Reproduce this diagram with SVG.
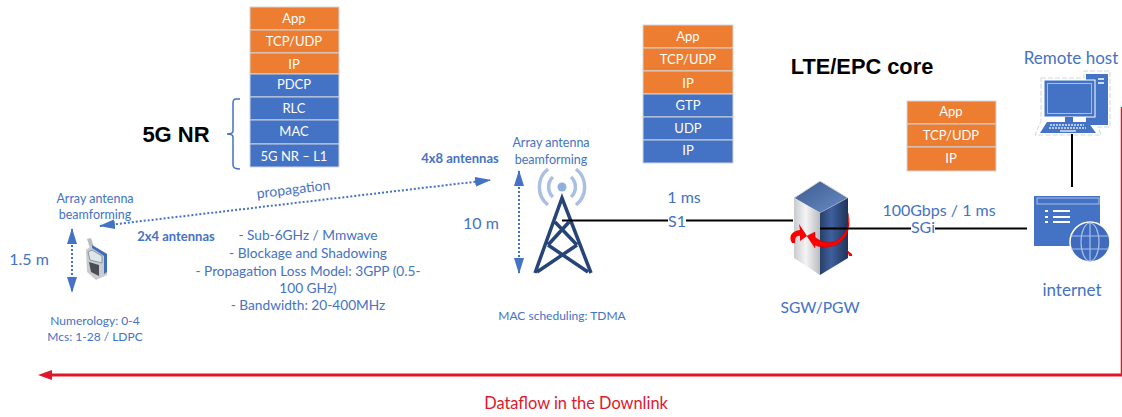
<svg xmlns="http://www.w3.org/2000/svg" width="1122" height="417" viewBox="0 0 1122 417">
<defs>
<style>
text{font-family:Lato,"Open Sans","Liberation Sans",sans-serif;text-anchor:middle}
.c{fill:#4472c4}
.s{font-size:13px;fill:#fff}
.o{fill:#ed7d31;stroke:#d0d5de;stroke-width:1}
.b{fill:#4472c4;stroke:#d0d5de;stroke-width:1}
.h{font-family:"Liberation Sans",Arial,sans-serif;font-weight:bold;fill:#000}
.d{stroke:#4472c4;stroke-width:2;stroke-dasharray:2 2;fill:none}
.k{stroke:#000;stroke-width:2;fill:none}
</style>
<linearGradient id="lf" x1="0" x2="1" y1="0" y2="0"><stop offset="0" stop-color="#c9cbce"/><stop offset="0.45" stop-color="#f4f4f5"/><stop offset="1" stop-color="#b9bbbf"/></linearGradient>
<linearGradient id="rf" x1="0" x2="1" y1="0" y2="0"><stop offset="0" stop-color="#2a3f66"/><stop offset="0.4" stop-color="#3e5f9f"/><stop offset="1" stop-color="#1f3357"/></linearGradient>
<linearGradient id="tf" x1="0" x2="1" y1="0" y2="1"><stop offset="0" stop-color="#3b5b8f"/><stop offset="1" stop-color="#6a8cc6"/></linearGradient>
<marker id="big" markerWidth="16" markerHeight="10" refX="15" refY="5" orient="auto-start-reverse" markerUnits="userSpaceOnUse"><path d="M0 0L16 5L0 10Z" fill="#4472c4"/></marker>
</defs>
<rect width="1122" height="417" fill="#fff"/>

<g id="stack-5g">
<rect class="o" x="250" y="7" width="89" height="23"/><text class="s" x="294" y="23">App</text>
<rect class="o" x="250" y="30" width="89" height="23"/><text class="s" x="294" y="46">TCP/UDP</text>
<rect class="o" x="250" y="53" width="89" height="21"/><text class="s" x="294" y="69">IP</text>
<rect class="b" x="250" y="74" width="89" height="23"/><text class="s" x="294" y="89">PDCP</text>
<rect class="b" x="250" y="97" width="89" height="23"/><text class="s" x="294" y="113">RLC</text>
<rect class="b" x="250" y="120" width="89" height="24"/><text class="s" x="294" y="136">MAC</text>
<rect class="b" x="250" y="144" width="89" height="23"/><text class="s" x="294" y="161">5G NR – L1</text>
<path d="M240 99H236Q233 99 233 103V131Q233 134 227 134Q233 134 233 137V165Q233 169 240 169" fill="none" stroke="#4472c4" stroke-width="1.500"/>
<text class="h" x="176" y="142" font-size="22">5G NR</text>
</g>

<g id="stack-enb">
<rect class="o" x="643" y="25" width="90" height="23"/><text class="s" x="688" y="41">App</text>
<rect class="o" x="643" y="48" width="90" height="23"/><text class="s" x="688" y="64">TCP/UDP</text>
<rect class="o" x="643" y="71" width="90" height="23"/><text class="s" x="688" y="88">IP</text>
<rect class="b" x="643" y="94" width="90" height="23"/><text class="s" x="688" y="110">GTP</text>
<rect class="b" x="643" y="117" width="90" height="23"/><text class="s" x="688" y="133">UDP</text>
<rect class="b" x="643" y="140" width="90" height="23"/><text class="s" x="688" y="155">IP</text>
</g>

<g id="stack-host">
<rect class="o" x="907" y="101" width="89" height="23"/><text class="s" x="951" y="116">App</text>
<rect class="o" x="907" y="124" width="89" height="23"/><text class="s" x="951" y="140">TCP/UDP</text>
<rect class="o" x="907" y="147" width="89" height="24"/><text class="s" x="951" y="163">IP</text>
</g>

<g id="ue">
<path d="M87 239L91 238L94 247L90 248Z" fill="#b9bcc1"/>
<path d="M86 250L92 245L107 254V275L96 280L87 272Z" fill="#c9cccf"/>
<path d="M92 245L107 254V272L104 274V256L92 248Z" fill="#3f6db8"/>
<path d="M88 252L92 250L102 256V263L90 260Z" fill="#dfe7ee" stroke="#666" stroke-width="0.600"/>
<path d="M89 262L99 265V276L91 272Z" fill="#4a4d52"/>
<text class="c" x="95" y="203" font-size="12.500">Array antenna</text>
<text class="c" x="95" y="219" font-size="12.500">beamforming</text>
<text class="c" x="29" y="265" font-size="16">1.5 m</text>
<text class="c" x="95" y="325" font-size="12">Numerology: 0-4</text>
<text class="c" x="95" y="341" font-size="12">Mcs: 1-28 / LDPC</text>
<text class="c" x="176" y="241" font-size="13" font-weight="bold">2x4 antennas</text>
</g>

<g id="propagation">
<text class="c" x="294" y="194" font-size="14" transform="rotate(-7 294 194)">propagation</text>
<text class="c" x="460" y="163" font-size="13" font-weight="bold">4x8 antennas</text>
<g font-size="13.700" fill="#4472c4">
<text x="308" y="240">- Sub-6GHz / Mmwave</text>
<text x="308" y="258">- Blockage and Shadowing</text>
<text x="308" y="276">- Propagation Loss Model: 3GPP (0.5-</text>
<text x="308" y="293">100 GHz)</text>
<text x="308" y="310">- Bandwidth: 20-400MHz</text>
</g>
</g>

<g id="enb">
<g fill="none" stroke="#a9bfe3" stroke-width="3.500">
<path d="M553 197A13.500 13.500 0 0 1 553 177"/><path d="M571 177A13.500 13.500 0 0 1 571 197"/>
<path d="M548 205A23 23 0 0 1 548 169"/><path d="M576 169A23 23 0 0 1 576 205"/>
</g>
<circle cx="562" cy="187" r="4.500" fill="#8fb0dd"/>
<path d="M535 273L562 198L591 273M555 222L577 245M569 222L548 245M548 245L588 272M577 245L537 272" fill="none" stroke="#264478" stroke-width="3.500"/>
<text class="c" x="551" y="147" font-size="12.500">Array antenna</text>
<text class="c" x="551" y="164" font-size="12.500">beamforming</text>
<text class="c" x="481" y="229" font-size="16">10 m</text>
<text class="c" x="562" y="320" font-size="12">MAC scheduling: TDMA</text>
<text class="c" x="684" y="203" font-size="16">1 ms</text>
<text class="c" x="677" y="227" font-size="16">S1</text>
</g>

<g id="sgw">
<path d="M820 181L848 198L820 213L794 198Z" fill="url(#tf)" stroke="#d5d7da"/>
<path d="M794 198L820 213V275L794 258Z" fill="url(#lf)"/>
<path d="M820 213L848 198V258L820 275Z" fill="url(#rf)"/>
<path d="M848 213C853 232 842 247 826 247C820 247 816 246 815 245V248L807 236L815 232V237C820 242 829 244 836 241C846 236 850 224 848 213Z" fill="#f00" stroke="#b00" stroke-width="0.400"/>
<path d="M792 243C788 236 792 231 800 230L799 224L807 236L800 241V236C796 235 795 238 795 243Z" fill="#f00"/>
<path d="M847 250L852 254V256L849 256Z" fill="#f00"/>
<text class="c" x="820" y="313" font-size="15.600">SGW/PGW</text>
<text class="c" x="939" y="216" font-size="16">100Gbps / 1 ms</text>
<text class="c" x="923" y="233" font-size="16">SGi</text>
</g>

<g id="lte-title"><text class="h" x="862" y="74" font-size="21.800">LTE/EPC core</text></g>

<g id="remote-host">
<path d="M1041 78H1084V71H1110V127H1098L1101 135H1035L1041 121Z" fill="#fff" stroke="#d4d4d4" stroke-dasharray="5 2"/>
<rect x="1086" y="74" width="22" height="51" fill="#4472c4"/>
<path d="M1098 79H1104M1098 83H1104" stroke="#fff" stroke-width="1.500"/>
<rect x="1044" y="80" width="51" height="37" fill="#4472c4" stroke="#fff"/>
<rect x="1047.500" y="83.500" width="44" height="30" fill="#4472c4" stroke="#a9bfe3"/>
<rect x="1065" y="117" width="8" height="5" fill="#4472c4"/>
<path d="M1047 122H1088L1096 133H1040Z" fill="#4472c4"/>
<path d="M1050 125H1084M1049 128H1086" stroke="#dfe7f5" stroke-width="1.500" stroke-dasharray="2 1"/>
<path d="M1060 131H1076" stroke="#dfe7f5" stroke-width="1.500"/>
<text class="c" x="1071" y="64" font-size="17">Remote host</text>
</g>

<g id="internet">
<rect x="1034" y="196" width="66" height="50" fill="#4472c4"/>
<rect x="1037" y="198" width="62" height="6" fill="#4472c4" stroke="#a9bfe3"/>
<path d="M1045 211H1048M1053 211H1070M1045 217H1048M1053 217H1070M1045 222H1048M1053 222H1070" stroke="#fff" stroke-width="2"/>
<circle cx="1090" cy="242" r="20" fill="#3e6bbd" stroke="#fff" stroke-width="1.500"/>
<g fill="none" stroke="#a9bfe3" stroke-width="1.200"><ellipse cx="1090" cy="242" rx="9" ry="19"/><path d="M1090 223V261M1071 236H1109M1071 249H1109"/></g>
<text class="c" x="1072" y="296" font-size="17">internet</text>
</g>

<g id="dataflow"><text x="576" y="409" font-size="16.400" fill="#e0162b">Dataflow in the Downlink</text></g>

<g id="connectors">
<path class="k" d="M562 220.500H668M686 220.500H793"/>
<path class="k" d="M820 228.500H911M935 228.500H1027"/>
<path class="k" d="M1072 134V187"/>
<path d="M1121.500 107V375" fill="none" stroke="#e0162b" stroke-width="1.500"/>
<path d="M1122 375H47" fill="none" stroke="#e0162b" stroke-width="3"/>
<path d="M38 375L52 370V380Z" fill="#e0162b"/>
<path class="d" d="M100 226L490 180" marker-start="url(#big)" marker-end="url(#big)"/>
<path class="d" d="M72 229V292" marker-start="url(#big)" marker-end="url(#big)"/>
<path class="d" d="M519 171V273" marker-start="url(#big)" marker-end="url(#big)"/>
</g>
</svg>
